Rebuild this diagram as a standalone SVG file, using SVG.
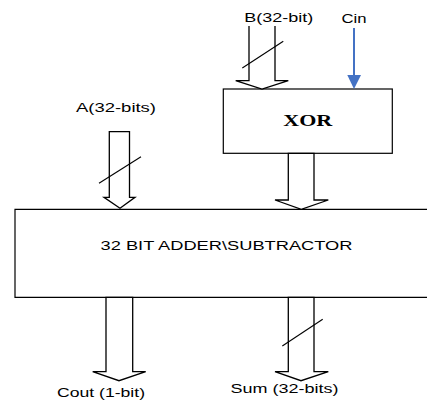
<svg xmlns="http://www.w3.org/2000/svg" width="427" height="400" viewBox="0 0 427 400">
<style>
.box{fill:#fff;stroke:#000;stroke-width:1.2}
.blk{fill:#fff;stroke:#000;stroke-width:1.3;stroke-linejoin:miter}
.sl{stroke:#000;stroke-width:1.1}
.lbl{font-family:"Liberation Sans",Arial,sans-serif;font-size:13px;fill:#000;text-anchor:middle}
.xor{font-family:"Liberation Serif","Times New Roman",serif;font-size:16.5px;font-weight:bold;fill:#000;text-anchor:middle}
</style>
<rect width="427" height="400" fill="#fff"/>
<g id="xor">
<rect class="box" x="223.3" y="89" width="169" height="64.3"/>
<text class="xor" x="307.8" y="126" textLength="49" lengthAdjust="spacingAndGlyphs">XOR</text>
</g>
<g id="adder">
<path class="box" d="M430,209.3 H15 V297.3 H430"/>
<text class="lbl" x="226.5" y="250" textLength="252" lengthAdjust="spacingAndGlyphs">32 BIT ADDER\SUBTRACTOR</text>
</g>
<g id="labels">
<text class="lbl" x="278.7" y="21.7" textLength="69" lengthAdjust="spacingAndGlyphs">B(32-bit)</text>
<text class="lbl" x="354" y="23.3" textLength="25" lengthAdjust="spacingAndGlyphs">Cin</text>
<text class="lbl" x="116" y="112.3" textLength="80" lengthAdjust="spacingAndGlyphs">A(32-bits)</text>
<text class="lbl" x="101" y="397" textLength="88" lengthAdjust="spacingAndGlyphs">Cout (1-bit)</text>
<text class="lbl" x="284.5" y="393" textLength="108" lengthAdjust="spacingAndGlyphs">Sum (32-bits)</text>
</g>
<g id="connectors">
<polyline class="blk" points="249,26 249,80.7 235.7,80.7 262,89 288.3,80.7 275,80.7 275,26"/>
<line class="sl" x1="242.3" y1="68" x2="283.3" y2="41.3"/>
<line x1="354" y1="28" x2="354" y2="76" stroke="#4472C4" stroke-width="2"/>
<polygon points="347.3,75 361,75 354,89" fill="#4472C4"/>
<polygon class="blk" points="288.3,153.3 288.3,200 275,200 301.3,209.3 328.3,200 314,200 314,153.3"/>
<polygon class="blk" points="109.3,131.7 109.3,197.3 104,197.3 120,208.3 135,197.3 129.5,197.3 129.5,131.7"/>
<line class="sl" x1="99" y1="183.3" x2="141" y2="156.7"/>
<polygon class="blk" points="106,297.3 106,371.7 92.7,371.7 119,380.7 145.7,371.7 132.7,371.7 132.7,297.3"/>
<polygon class="blk" points="288.3,297.3 288.3,371.7 275,371.7 301,380.7 328.3,371.7 314,371.7 314,297.3"/>
<line class="sl" x1="282.3" y1="346" x2="322.7" y2="319.3"/>
</g>
</svg>
